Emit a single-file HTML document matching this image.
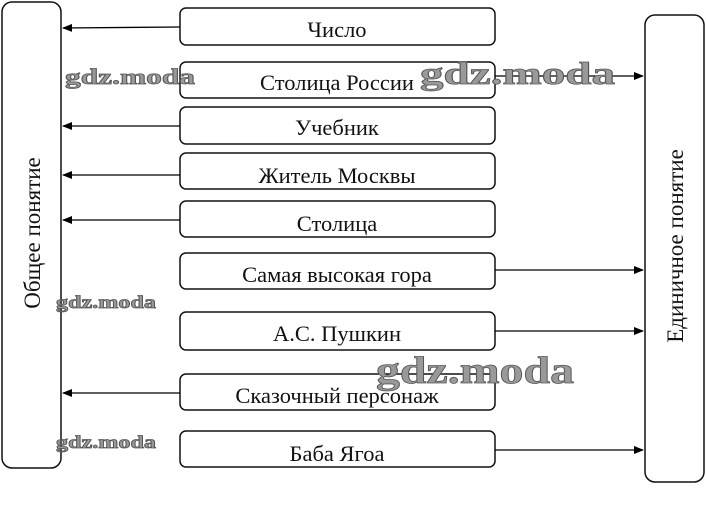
<!DOCTYPE html>
<html><head><meta charset="utf-8"><style>
html,body{margin:0;padding:0;background:#fff;width:706px;height:518px;overflow:hidden}
text{font-family:"Liberation Serif",serif;fill:#111}
.wm{font-family:"Liberation Serif",serif;font-weight:bold;fill:#999;stroke:#555;stroke-width:0.8}
</style></head><body>
<svg width="706" height="518" viewBox="0 0 706 518" xmlns="http://www.w3.org/2000/svg">
<defs><marker id="a" markerWidth="10" markerHeight="8" refX="9" refY="4" orient="auto" markerUnits="userSpaceOnUse"><path d="M0,0 L10,4 L0,8 z" fill="#000"/></marker></defs>
<g fill="none" stroke="#111" stroke-width="1.5">
<rect x="2" y="2" width="59" height="466" rx="10"/>
<rect x="645" y="15" width="59" height="467" rx="10"/>
<rect x="180" y="8" width="315" height="37" rx="6"/>
<rect x="180" y="62" width="315" height="36" rx="6"/>
<rect x="180" y="107" width="315" height="37" rx="6"/>
<rect x="180" y="153" width="315" height="36" rx="6"/>
<rect x="180" y="201" width="315" height="36" rx="6"/>
<rect x="180" y="253" width="315" height="36" rx="6"/>
<rect x="180" y="312" width="315" height="38" rx="6"/>
<rect x="180" y="374" width="315" height="36" rx="6"/>
<rect x="180" y="431" width="315" height="36" rx="6"/>
</g>
<g stroke="#000" stroke-width="1.3" marker-end="url(#a)">
<line x1="180" y1="27" x2="63" y2="28"/>
<line x1="180" y1="126" x2="63" y2="126"/>
<line x1="180" y1="175" x2="63" y2="175"/>
<line x1="180" y1="220" x2="63" y2="220"/>
<line x1="180" y1="393" x2="63" y2="393"/>
<line x1="495" y1="76" x2="643" y2="76"/>
<line x1="495" y1="270" x2="643" y2="270"/>
<line x1="495" y1="331" x2="643" y2="331"/>
<line x1="495" y1="450" x2="643" y2="450"/>
</g>
<g font-size="22.5" text-anchor="middle">
<text x="337" y="37">Число</text>
<text x="337" y="90">Столица России</text>
<text x="337" y="135">Учебник</text>
<text x="337" y="183">Житель Москвы</text>
<text x="337" y="231">Столица</text>
<text x="337" y="282">Самая высокая гора</text>
<text x="337" y="341">А.С. Пушкин</text>
<text x="337" y="403">Сказочный персонаж</text>
<text x="337" y="461">Баба Ягоа</text>
<text transform="translate(40,233) rotate(-90)" font-size="23">Общее понятие</text>
<text transform="translate(683,246) rotate(-90)" font-size="23">Единичное понятие</text>
</g>
<text class="wm" x="65" y="84" font-size="22" textLength="130" lengthAdjust="spacingAndGlyphs">gdz.moda</text>
<text class="wm" x="420" y="84" font-size="32" textLength="195" lengthAdjust="spacingAndGlyphs">gdz.moda</text>
<text class="wm" x="56" y="308" font-size="18" textLength="100" lengthAdjust="spacingAndGlyphs">gdz.moda</text>
<text class="wm" x="376" y="383" font-size="38" textLength="198" lengthAdjust="spacingAndGlyphs">gdz.moda</text>
<text class="wm" x="56" y="448" font-size="18" textLength="100" lengthAdjust="spacingAndGlyphs">gdz.moda</text>
</svg>
</body></html>
